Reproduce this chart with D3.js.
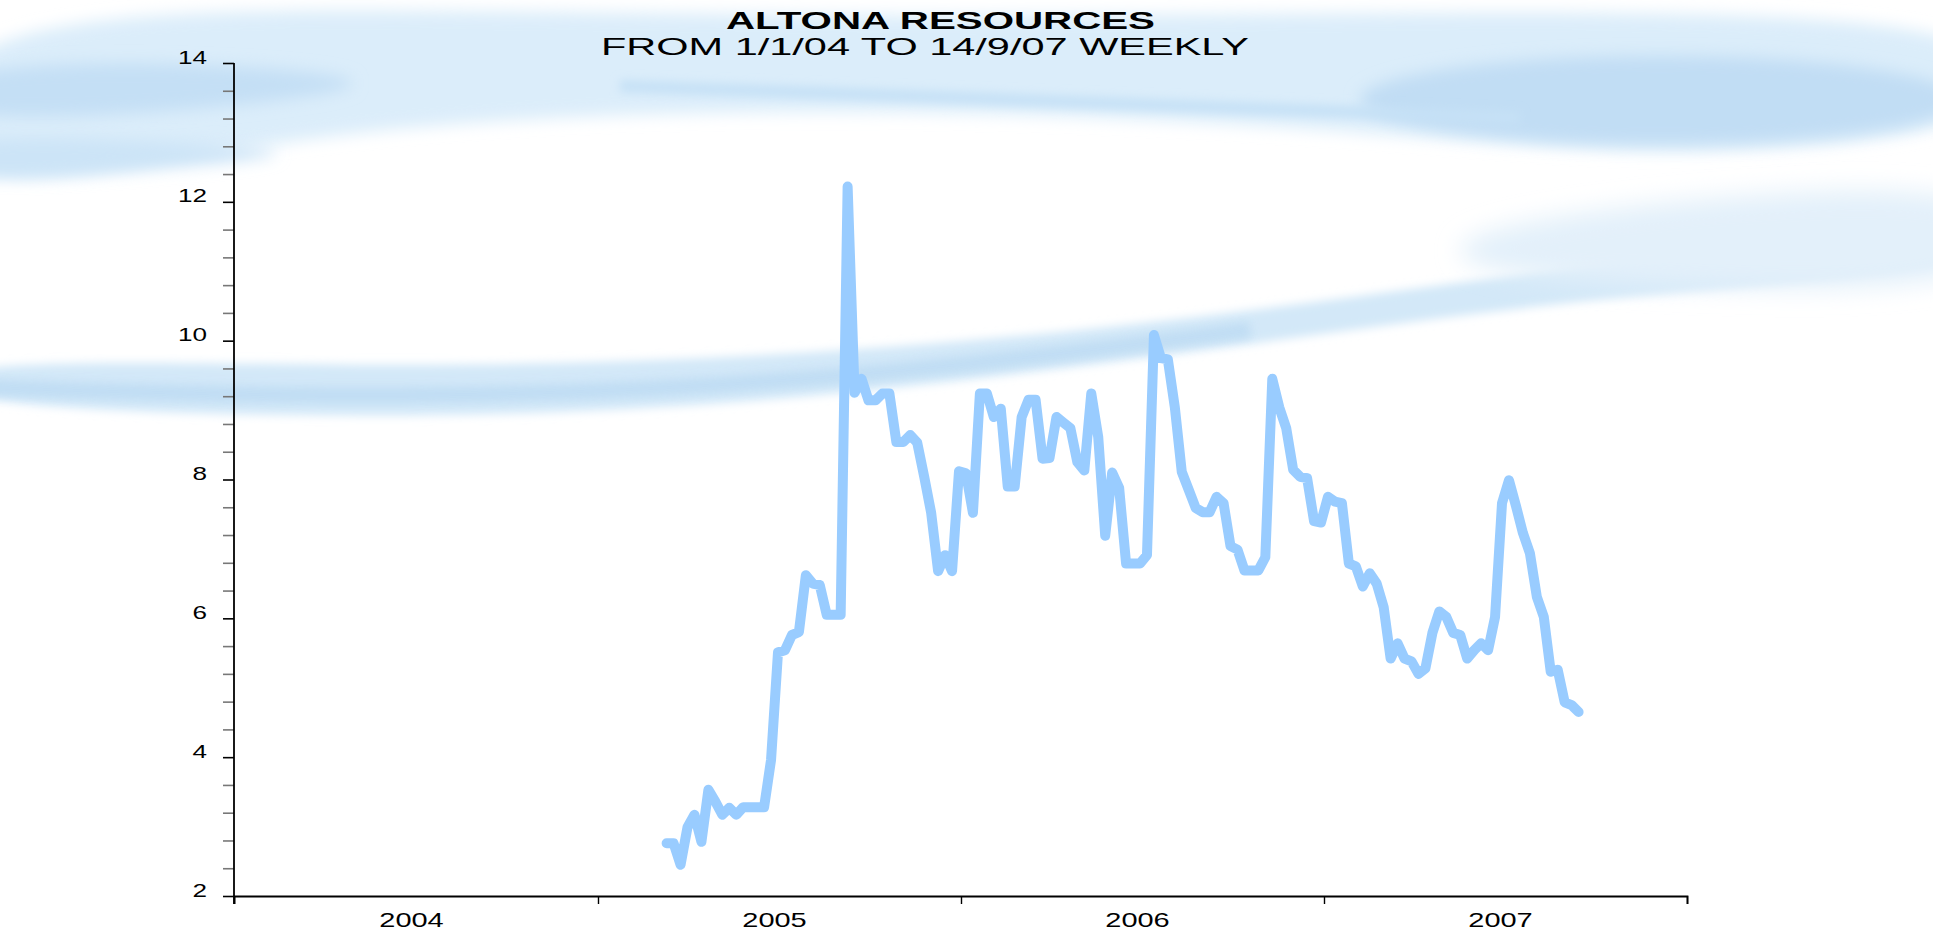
<!DOCTYPE html>
<html><head><meta charset="utf-8">
<script src="https://cdn.jsdelivr.net/npm/d3@7"></script>
<style>html,body{margin:0;padding:0;background:#fff;overflow:hidden}</style>
</head><body><svg id="chart" width="1933" height="935"></svg>
<script>
// ---------- data ----------
const titleText = "ALTONA RESOURCES";
const subtitleText = "FROM 1/1/04 TO 14/9/07 WEEKLY";
const firstWeek = "2005-03-11";           // weekly closes, one per week
const prices = [
  2.76, 2.76, 2.45, 2.99, 3.17, 2.78, 3.53, 3.36, 3.17, 3.27,
  3.17, 3.28, 3.28, 3.28, 3.28, 3.96, 5.51, 5.54, 5.76, 5.80,
  6.62, 6.50, 6.48, 6.05, 6.05, 6.05, 12.22, 9.25, 9.45, 9.14,
  9.14, 9.24, 9.24, 8.54, 8.54, 8.64, 8.53, 8.04, 7.52, 6.68,
  6.91, 6.68, 8.12, 8.09, 7.52, 9.24, 9.24, 8.90, 9.02, 7.90,
  7.90, 8.90, 9.15, 9.15, 8.30, 8.31, 8.90, 8.82, 8.74, 8.25,
  8.13, 9.24, 8.61, 7.19, 8.10, 7.88, 6.79, 6.79, 6.79, 6.91,
  10.08, 9.75, 9.73, 9.04, 8.11, 7.85, 7.59, 7.53, 7.53, 7.75,
  7.66, 7.04, 6.99, 6.69, 6.69, 6.69, 6.88, 9.45, 9.04, 8.74,
  8.14, 8.04, 8.02, 7.40, 7.38, 7.75, 7.68, 7.66, 6.79, 6.75,
  6.46, 6.65, 6.50, 6.16, 5.42, 5.64, 5.42, 5.38, 5.20, 5.28,
  5.79, 6.10, 6.02, 5.79, 5.76, 5.42, 5.54, 5.64, 5.54, 6.02,
  7.66, 7.99, 7.62, 7.23, 6.94, 6.31, 6.02, 5.23, 5.26, 4.79,
  4.75, 4.65
];
const years = [2004, 2005, 2006, 2007];
const yMajorTicks = [2, 4, 6, 8, 10, 12, 14];
const yMinorStep = 0.4;

// ---------- setup ----------
const svg = d3.select("#chart");
const defs = svg.append("defs");
[["b5", 5], ["b8", 8], ["b12", 12]].forEach(([id, s]) => {
  defs.append("filter").attr("id", id).attr("filterUnits", "userSpaceOnUse")
    .attr("x", -300).attr("y", -300).attr("width", 2600).attr("height", 1600)
    .append("feGaussianBlur").attr("stdDeviation", s);
});

// decorative swoosh background
const bg = svg.append("g");
const blob = d3.line().curve(d3.curveBasisClosed);
const open = d3.line().curve(d3.curveBasis);
const fills = [
  {pts: [[-80,14],[400,8],[900,18],[1400,12],[2020,12],[2020,128],[1750,152],[1600,152],[1300,126],[1000,112],[700,110],[370,126],[150,165],[-80,195]], c: "#dbedfa", f: "b8"},
  {pts: [[-80,66],[200,60],[430,82],[200,112],[-80,124]], c: "#c4dff5", f: "b8"},
  {pts: [[-80,134],[150,140],[340,152],[150,170],[-80,186]], c: "#cce4f7", f: "b8"},
  {pts: [[-80,356],[370,368],[740,360],[1110,330],[1479,280],[2020,206],[2020,270],[1603,294],[1233,347],[863,394],[493,421],[-80,410]], c: "#d3e8f8", f: "b5"},
  {pts: [[1450,230],[1700,195],[2020,180],[2020,290],[1700,290],[1450,272]], c: "#e3f0fa", f: "b12"}
];
fills.forEach(s => bg.append("path").attr("d", blob(s.pts)).attr("fill", s.c).attr("filter", `url(#${s.f})`));
bg.append("ellipse").attr("cx", 1660).attr("cy", 100).attr("rx", 300).attr("ry", 44)
  .attr("fill", "#c1ddf4").attr("filter", "url(#b8)");
bg.append("path").attr("d", open([[620,86],[1000,99],[1350,112],[1520,118]]))
  .attr("fill", "none").attr("stroke", "#c6e1f6").attr("stroke-width", 12).attr("filter", "url(#b5)");
bg.append("path").attr("d", open([[-60,386],[300,398],[650,392],[950,368],[1250,330]]))
  .attr("fill", "none").attr("stroke", "#bddbf3").attr("stroke-width", 16).attr("opacity", 0.85).attr("filter", "url(#b5)");

// ---------- scales ----------
const x = d3.scaleTime()
  .domain([new Date(2004, 0, 1), new Date(2008, 0, 1)])
  .range([234, 1687]);
const y = d3.scaleLinear().domain([2, 14]).range([896, 63]);

const start = d3.timeParse("%Y-%m-%d")(firstWeek);
const series = prices.map((v, i) => ({date: d3.timeDay.offset(start, 7 * i), value: v}));

// ---------- axes ----------
const yTicks = d3.range(2, 14.001, yMinorStep).map(v => Math.round(v * 10) / 10);
const yAxis = svg.append("g").attr("transform", "translate(234,0)")
  .call(d3.axisLeft(y).tickValues(yTicks).tickSize(11).tickPadding(16)
    .tickFormat(d => yMajorTicks.includes(d) ? d : ""));
yAxis.select(".domain").remove();
yAxis.selectAll(".tick line")
  .attr("stroke", d => yMajorTicks.includes(d) ? "#000" : "#777").attr("stroke-width", 1.6);
yAxis.selectAll(".tick text")
  .attr("x", 0).attr("dy", 0)
  .attr("transform", "translate(-27,0) scale(1.45,1)")
  .attr("font-family", "'Liberation Sans', Arial, sans-serif")
  .attr("font-size", 18).attr("fill", "#000");
svg.append("line").attr("x1", 234).attr("x2", 234).attr("y1", 63).attr("y2", 904)
  .attr("stroke", "#000").attr("stroke-width", 1.8);

const xAxis = svg.append("g").attr("transform", "translate(0,896)")
  .call(d3.axisBottom(x).tickValues(d3.range(2004, 2009).map(yy => new Date(yy, 0, 1)))
    .tickSize(8).tickFormat(""));
xAxis.select(".domain").attr("stroke", "#000").attr("stroke-width", 1.8);
xAxis.selectAll(".tick line").attr("stroke", "#000").attr("stroke-width", 1.4);

const xLab = svg.append("g").attr("transform", "translate(0,896)")
  .call(d3.axisBottom(x).tickValues(years.map(yy => new Date(yy, 6, 1))).tickSize(0)
    .tickFormat(d3.timeFormat("%Y")));
xLab.select(".domain").remove();
xLab.selectAll(".tick text")
  .attr("y", 0).attr("dy", 0)
  .attr("transform", "translate(-4,31) scale(1.45,1)")
  .attr("font-family", "'Liberation Sans', Arial, sans-serif")
  .attr("font-size", 20).attr("fill", "#000");

// ---------- line ----------
const line = d3.line().x(d => x(d.date)).y(d => y(d.value));
svg.append("path").datum(series).attr("d", line)
  .attr("fill", "none").attr("stroke", "#99ccff").attr("stroke-width", 10)
  .attr("stroke-linejoin", "round").attr("stroke-linecap", "round");

// ---------- titles ----------
svg.append("text").text(titleText)
  .attr("x", 726).attr("y", 29).attr("textLength", 429).attr("lengthAdjust", "spacingAndGlyphs")
  .attr("font-family", "'Liberation Sans', Arial, sans-serif").attr("font-weight", "bold")
  .attr("font-size", 24).attr("fill", "#000");
svg.append("text").text(subtitleText)
  .attr("x", 601).attr("y", 55).attr("textLength", 648).attr("lengthAdjust", "spacingAndGlyphs")
  .attr("font-family", "'Liberation Sans', Arial, sans-serif")
  .attr("font-size", 24).attr("fill", "#000");
</script>
</body></html>
